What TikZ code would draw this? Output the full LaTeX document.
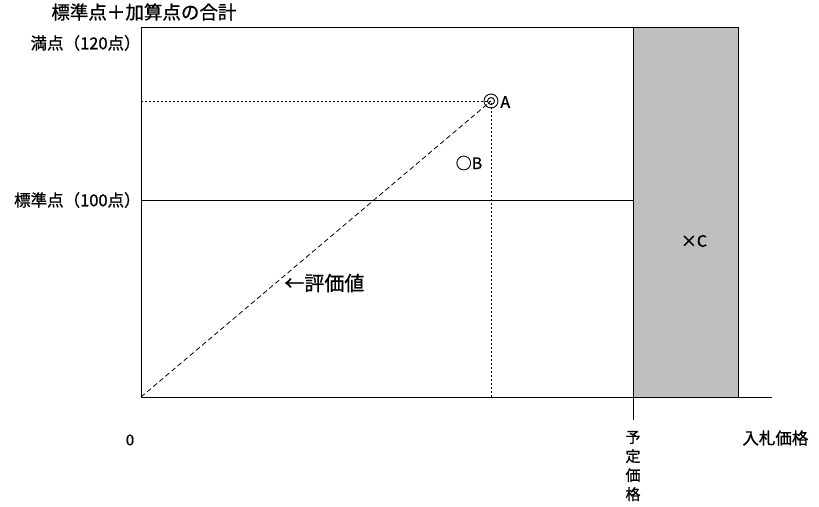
\documentclass[tikz,border=0pt]{standalone}
\usepackage{fontspec}
\setmainfont{Noto Sans CJK JP}[FakeBold=0.9,Kerning=Off]
\usetikzlibrary{positioning}

\begin{document}
\begin{tikzpicture}
  [x=1pt,y=-1pt,line width=0.8pt,
   every node/.style={font=\fontsize{15}{19}\selectfont,inner sep=0pt},
   big/.style={font=\fontsize{18.5}{22}\selectfont},
   side label/.style={font=\fontsize{16.5}{20}\selectfont,anchor=east},
   mark label/.style={font=\fontsize{16}{20}\selectfont},
   guide/.style={dash pattern=on 2pt off 2pt},
   valueline/.style={dash pattern=on 5pt off 3pt}]
  \useasboundingbox (0,0) rectangle (819,506);
  % over the planned price
  \fill[gray!50] (633,27) rectangle (738,397);
  \coordinate (o)  at (141,397);
  \coordinate (tl) at (141,27);
  \coordinate (tr) at (738,27);
  \coordinate (br) at (738,397);
  \coordinate (pt) at (633,27);
  \coordinate (pb) at (633,420);
  \coordinate (xe) at (772,397);
  \coordinate (s0) at (141,200);
  \coordinate (s1) at (633,200);
  \coordinate (ay) at (141,101);
  \coordinate (ax) at (491,397);
  \coordinate (a)  at (491,101);

  \foreach \from/\to in {o/tl, tl/tr, tr/br, pt/pb, o/xe, s0/s1}
    \draw (\from) -- (\to);
  \draw[guide] (ay) -- (a) -- (ax);
  \draw[valueline] (o) -- (a);
  \draw[line width=0.9pt] (a) circle[radius=7pt] (a) circle[radius=3.5pt];

  \node[mark label,anchor=west] (la) at (500,102) {A};
  \node[mark label] (lb) at (469,163) {○B};
  \node[mark label] (lc) at (694,241) {×C};
  \node[font=\fontsize{20}{24}\selectfont,anchor=west] (val) at (284,283) {←評価値};

  \node[big,anchor=west] (ylab) at (51,12) {標準点＋加算点の合計};
  \node[side label] (full) at (141,43) {満点（120点）};
  \node[side label] (std) at (141,200) {標準点（100点）};
  \node (zero) at (130,440) {0};
  \node[font=\fontsize{16.5}{20}\selectfont,anchor=west] (xlab) at (742,438) {入札価格};
  \node[align=center] (plan) at (633,466) {予\\定\\価\\格};
\end{tikzpicture}
\end{document}
